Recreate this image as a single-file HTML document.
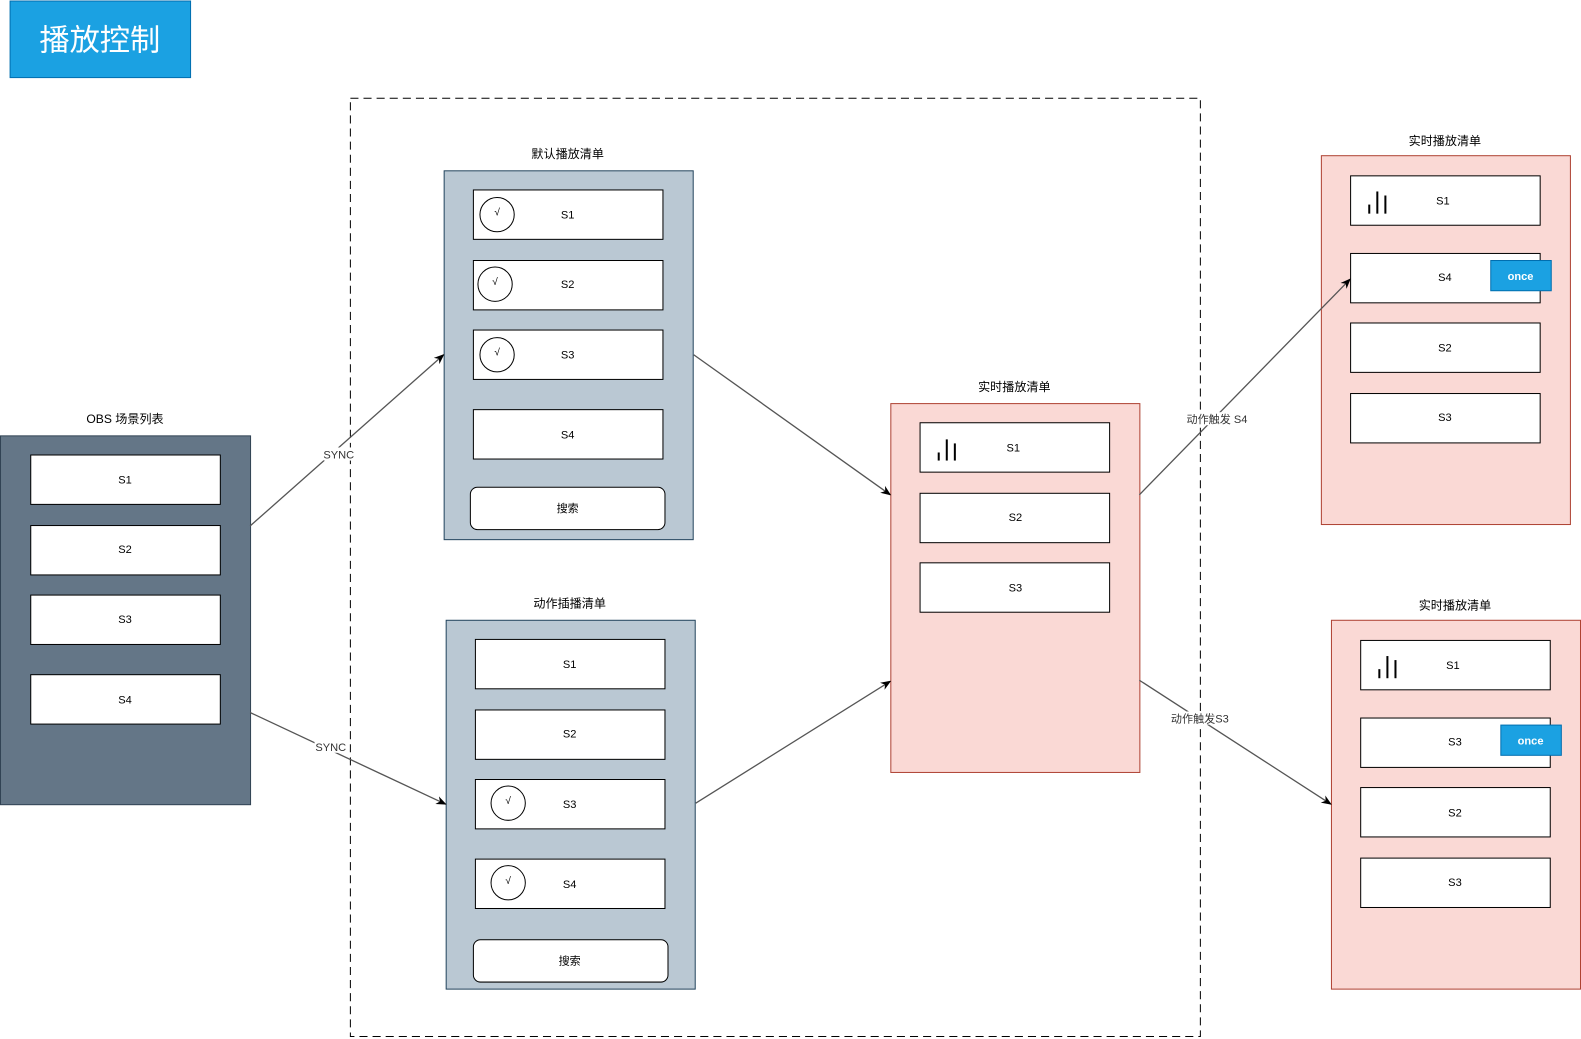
<!DOCTYPE html>
<html><head><meta charset="utf-8"><style>
html,body{margin:0;padding:0;background:#fff;}
svg{display:block;}
text{font-family:"Liberation Sans","Noto Sans CJK SC",sans-serif;}
</style></head><body>
<svg width="1581" height="1039" viewBox="0 0 1568 1031" preserveAspectRatio="none" xmlns="http://www.w3.org/2000/svg">
<defs><marker id="a" viewBox="0 0 10 10" refX="9" refY="5" markerWidth="8" markerHeight="8" orient="auto"><path d="M0,1 L10,5 L0,9 L3,5 z" fill="#000"/></marker></defs>
<rect x="10" y="1" width="179" height="76" fill="#1ba1e2" stroke="#006eaf"/>
<text x="99" y="50" font-size="30" fill="#fff" text-anchor="middle">播放控制</text>
<rect x="347.5" y="97.5" width="843" height="931" fill="none" stroke="#000" stroke-dasharray="8,5"/>
<g font-size="11" text-anchor="middle" fill="#000">
<!-- OBS -->
<text x="124" y="420" font-size="12">OBS 场景列表</text>
<rect x="0.5" y="432.5" width="248" height="366" fill="#647687" stroke="#314354"/>
<rect x="30.5" y="451.5" width="188" height="49" fill="#fff" stroke="#000"/><text x="124" y="480">S1</text>
<rect x="30.5" y="521.5" width="188" height="49" fill="#fff" stroke="#000"/><text x="124" y="549">S2</text>
<rect x="30.5" y="590.5" width="188" height="49" fill="#fff" stroke="#000"/><text x="124" y="618">S3</text>
<rect x="30.5" y="669.5" width="188" height="49" fill="#fff" stroke="#000"/><text x="124" y="698">S4</text>
<!-- Default -->
<text x="563" y="157" font-size="12">默认播放清单</text>
<rect x="440.5" y="169.5" width="247" height="366" fill="#bac8d3" stroke="#23445d"/>
<rect x="469.5" y="188.5" width="188" height="49" fill="#fff" stroke="#000"/><text x="563" y="217">S1</text>
<rect x="469.5" y="258.5" width="188" height="49" fill="#fff" stroke="#000"/><text x="563" y="286">S2</text>
<rect x="469.5" y="327.5" width="188" height="49" fill="#fff" stroke="#000"/><text x="563" y="356">S3</text>
<rect x="469.5" y="406.5" width="188" height="49" fill="#fff" stroke="#000"/><text x="563" y="435">S4</text>
<rect x="466.5" y="483.5" width="193" height="42" rx="7" fill="#fff" stroke="#000"/><text x="563" y="508">搜索</text>
<circle cx="493" cy="213" r="17" fill="#fff" stroke="#000"/><text x="493" y="214" font-size="10">√</text>
<circle cx="491" cy="282" r="17" fill="#fff" stroke="#000"/><text x="491" y="283" font-size="10">√</text>
<circle cx="493" cy="352" r="17" fill="#fff" stroke="#000"/><text x="493" y="353" font-size="10">√</text>
<!-- Action -->
<text x="565" y="603" font-size="12">动作插播清单</text>
<rect x="442.5" y="615.5" width="247" height="366" fill="#bac8d3" stroke="#23445d"/>
<rect x="471.5" y="634.5" width="188" height="49" fill="#fff" stroke="#000"/><text x="565" y="663">S1</text>
<rect x="471.5" y="704.5" width="188" height="49" fill="#fff" stroke="#000"/><text x="565" y="732">S2</text>
<rect x="471.5" y="773.5" width="188" height="49" fill="#fff" stroke="#000"/><text x="565" y="802">S3</text>
<rect x="471.5" y="852.5" width="188" height="49" fill="#fff" stroke="#000"/><text x="565" y="881">S4</text>
<rect x="469.5" y="932.5" width="193" height="42" rx="7" fill="#fff" stroke="#000"/><text x="565" y="957">搜索</text>
<circle cx="504" cy="797" r="17" fill="#fff" stroke="#000"/><text x="504" y="798" font-size="10">√</text>
<circle cx="504" cy="876" r="17" fill="#fff" stroke="#000"/><text x="504" y="877" font-size="10">√</text>
<!-- Realtime mid -->
<text x="1006" y="388" font-size="12">实时播放清单</text>
<rect x="883.5" y="400.5" width="247" height="366" fill="#fad9d5" stroke="#ae4132"/>
<rect x="912.5" y="419.5" width="188" height="49" fill="#fff" stroke="#000"/><text x="1005" y="448">S1</text>
<rect x="912.5" y="489.5" width="188" height="49" fill="#fff" stroke="#000"/><text x="1007" y="517">S2</text>
<rect x="912.5" y="558.5" width="188" height="49" fill="#fff" stroke="#000"/><text x="1007" y="587">S3</text>
<g stroke="#000" stroke-width="2"><line x1="931" y1="457" x2="931" y2="449"/><line x1="939" y1="457" x2="939" y2="436"/><line x1="947" y1="457" x2="947" y2="440"/></g>
<!-- Right top -->
<text x="1433" y="144" font-size="12">实时播放清单</text>
<rect x="1310.5" y="154.5" width="247" height="366" fill="#fad9d5" stroke="#ae4132"/>
<rect x="1339.5" y="174.5" width="188" height="49" fill="#fff" stroke="#000"/><text x="1431" y="203">S1</text>
<rect x="1339.5" y="251.5" width="188" height="49" fill="#fff" stroke="#000"/><text x="1433" y="279">S4</text>
<rect x="1339.5" y="320.5" width="188" height="49" fill="#fff" stroke="#000"/><text x="1433" y="349">S2</text>
<rect x="1339.5" y="390.5" width="188" height="49" fill="#fff" stroke="#000"/><text x="1433" y="418">S3</text>
<rect x="1478.5" y="258.5" width="60" height="30" fill="#1ba1e2" stroke="#006eaf"/><text x="1508" y="278" fill="#fff" font-weight="bold">once</text>
<g stroke="#000" stroke-width="2"><line x1="1358" y1="212" x2="1358" y2="203"/><line x1="1366" y1="212" x2="1366" y2="190"/><line x1="1374" y1="212" x2="1374" y2="194"/></g>
<!-- Right bottom -->
<text x="1443" y="605" font-size="12">实时播放清单</text>
<rect x="1320.5" y="615.5" width="247" height="366" fill="#fad9d5" stroke="#ae4132"/>
<rect x="1349.5" y="635.5" width="188" height="49" fill="#fff" stroke="#000"/><text x="1441" y="664">S1</text>
<rect x="1349.5" y="712.5" width="188" height="49" fill="#fff" stroke="#000"/><text x="1443" y="740">S3</text>
<rect x="1349.5" y="781.5" width="188" height="49" fill="#fff" stroke="#000"/><text x="1443" y="810">S2</text>
<rect x="1349.5" y="851.5" width="188" height="49" fill="#fff" stroke="#000"/><text x="1443" y="879">S3</text>
<rect x="1488.5" y="719.5" width="60" height="30" fill="#1ba1e2" stroke="#006eaf"/><text x="1518" y="739" fill="#fff" font-weight="bold">once</text>
<g stroke="#000" stroke-width="2"><line x1="1368" y1="673" x2="1368" y2="664"/><line x1="1376" y1="673" x2="1376" y2="651"/><line x1="1384" y1="673" x2="1384" y2="655"/></g>
</g>
<!-- connectors -->
<g stroke="#555" stroke-width="1.3" fill="none" marker-end="url(#a)">
<line x1="248" y1="522" x2="440" y2="352"/>
<line x1="248" y1="707" x2="442" y2="798"/>
<line x1="688" y1="352" x2="883" y2="491"/>
<line x1="690" y1="797" x2="883" y2="676"/>
<line x1="1130" y1="491" x2="1339" y2="277"/>
<line x1="1130" y1="675" x2="1320" y2="798"/>
</g>
<g font-size="11" text-anchor="middle" fill="#333">
<rect x="321" y="444" width="30" height="13" fill="#fff"/><text x="336" y="455">SYNC</text>
<rect x="312" y="734" width="32" height="13" fill="#fff"/><text x="328" y="745">SYNC</text>
<rect x="1177" y="409" width="60" height="13" fill="#fff"/><text x="1207" y="420">动作触发 S4</text>
<rect x="1161" y="706" width="58" height="13" fill="#fff"/><text x="1190" y="717">动作触发S3</text>
</g>
</svg>
</body></html>
